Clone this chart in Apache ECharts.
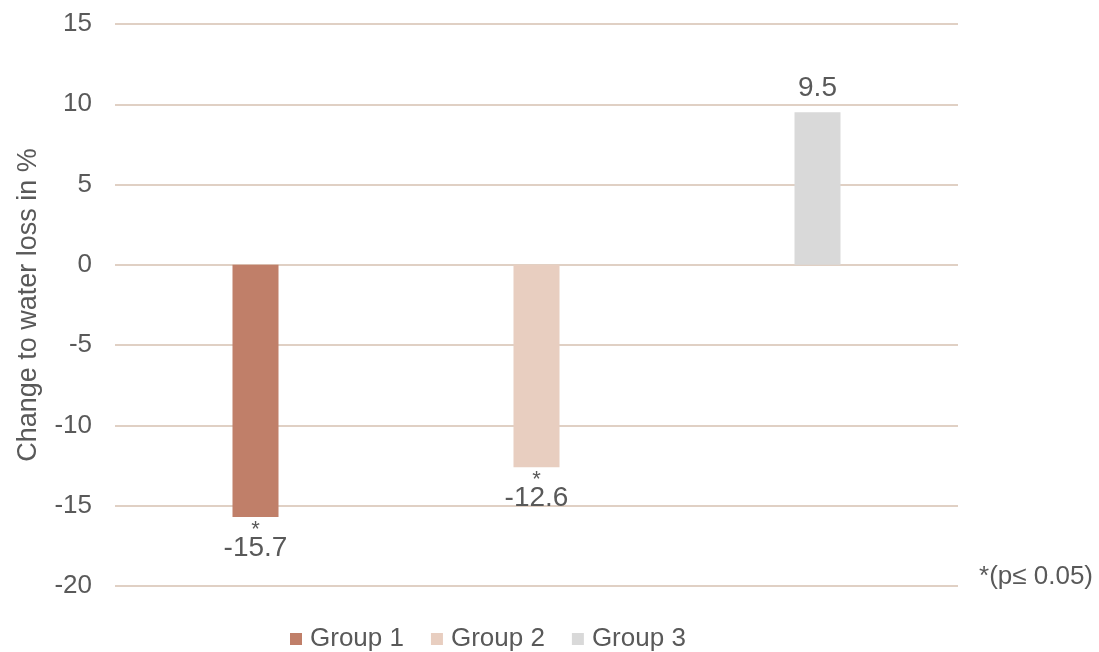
<!DOCTYPE html>
<html><head><meta charset="utf-8">
<script src="https://cdn.jsdelivr.net/npm/echarts@6/dist/echarts.min.js"></script>
<style>html,body{margin:0;padding:0;background:#fff}#c{width:1099px;height:652px}</style>
</head><body><div id="c"></div>
<script>
const categories = ['Group 1', 'Group 2', 'Group 3'];
const values = [-15.7, -12.6, 9.5];
const significant = [true, true, false];
const colors = ['#C07F69', '#E8CEC0', '#D9D9D9'];
const yTicks = { min: -20, max: 15, interval: 5 };
const yName = 'Change to water loss in %';
const note = '*(p≤ 0.05)';

const font = 'Liberation Sans, Arial, sans-serif';
const txt = '#595959';
const series = categories.map((name, i) => ({
  name: name,
  type: 'bar',
  stack: 'all',
  barWidth: 46,
  itemStyle: { color: colors[i] },
  data: categories.map((c, j) => j === i ? {
    value: values[i],
    label: {
      show: true,
      position: values[i] < 0 ? 'bottom' : 'top',
      distance: values[i] < 0 ? 3 : 10,
      formatter: (significant[i] ? '{s|*}\n' : '') + '{v|' + values[i] + '}',
      rich: {
        s: { fontSize: 22, color: txt, fontFamily: font, lineHeight: 14, padding: [0,0,-6,0] },
        v: { fontSize: 28, color: txt, fontFamily: font, lineHeight: 28 }
      }
    }
  } : null)
}));

const chart = echarts.init(document.getElementById('c'));
chart.setOption({
  animation: false,
  textStyle: { fontFamily: font },
  grid: { left: 115, right: 141, top: 24, bottom: 66 },
  legend: {
    left: 290, top: 626, padding: 0,
    itemWidth: 12, itemHeight: 12, itemGap: 27,
    icon: 'rect',
    textStyle: { fontSize: 26, color: txt, fontFamily: font, padding: [0,0,0,3] },
    data: categories
  },
  xAxis: {
    type: 'category', data: categories,
    axisLine: { show: false }, axisTick: { show: false }, axisLabel: { show: false }
  },
  yAxis: {
    type: 'value', min: yTicks.min, max: yTicks.max, interval: yTicks.interval,
    name: yName, nameLocation: 'middle', nameGap: 73,
    nameTextStyle: { fontSize: 27, color: txt, fontFamily: font },
    axisLine: { show: false }, axisTick: { show: false },
    axisLabel: { fontSize: 26, color: txt, margin: 23, fontFamily: font },
    splitLine: { lineStyle: { color: '#D6C0B1', width: 1.5 } }
  },
  graphic: [{
    type: 'text', right: 6, top: 564,
    style: { text: note, fontSize: 26, fill: txt, fontFamily: font }
  }],
  series: series
});
</script></body></html>
